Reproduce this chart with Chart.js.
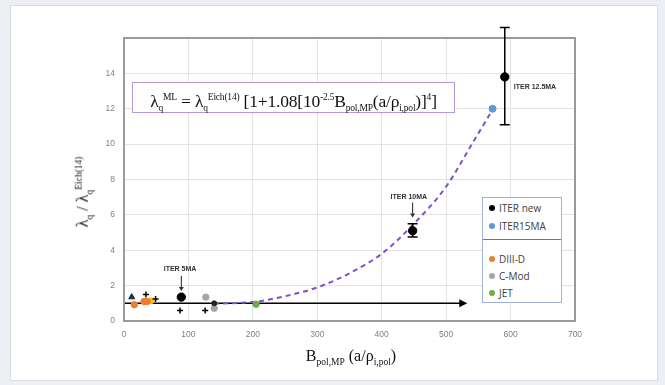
<!DOCTYPE html>
<html>
<head>
<meta charset="utf-8">
<script src="https://cdn.jsdelivr.net/npm/chart.js@4/dist/chart.umd.min.js"></script>
<style>
  html,body{margin:0;padding:0;width:665px;height:385px;background:#eceff3;overflow:hidden;}
  #card{position:absolute;left:10px;top:5px;width:646px;height:374px;background:#fff;border:1px solid #d9dde2;}
  #wrap{position:absolute;left:0;top:0;width:665px;height:385px;}
  .serif{font-family:"Liberation Serif","DejaVu Serif",serif;color:#111;}
  #eq{position:absolute;left:132px;top:82px;width:321px;height:29px;border:1.5px solid #b39ad6;background:#fff;
      font-size:17.5px;line-height:29px;text-align:center;white-space:nowrap;letter-spacing:-0.2px;}
  #eq sub,#eq sup{font-size:9.5px;}
  #ytitle{position:absolute;left:84px;top:192px;transform:translate(-50%,-50%) rotate(-90deg);font-size:16px;white-space:nowrap;}
  #ytitle sub,#ytitle sup{font-size:9.5px;}
  #xtitle{position:absolute;left:351px;top:357px;transform:translate(-50%,-50%);font-size:16px;white-space:nowrap;}
  #xtitle sub{font-size:9.5px;}
  #legend{position:absolute;left:482px;top:197px;width:78px;height:104px;border:1.5px solid #9db3db;background:#fff;
      font-family:"Open Sans","Liberation Sans",sans-serif;font-size:10px;color:#404040;}
  #legend .it{position:absolute;left:6px;height:12px;line-height:12px;white-space:nowrap;}
  #legend .dot{display:inline-block;width:6px;height:6px;border-radius:50%;margin-right:4px;vertical-align:middle;position:relative;top:-1px;}
  #legend .sep{position:absolute;left:0;right:0;top:41px;border-top:1.5px solid #777;}
</style>
</head>
<body>
<div id="card"></div>
<div id="wrap"><canvas id="c" width="665" height="385"></canvas></div>
<div id="eq" class="serif">λ<sub>q</sub><sup>ML</sup> = λ<sub>q</sub><sup>Eich(14)</sup> [1+1.08[10<sup>-2.5</sup>B<sub>pol,MP</sub>(a/ρ<sub>i,pol</sub>)]<sup>4</sup>]</div>
<div id="ytitle" class="serif">λ<sub>q</sub> / λ<sub>q</sub><sup>Eich(14)</sup></div>
<div id="xtitle" class="serif">B<sub>pol,MP</sub> (a/ρ<sub>i,pol</sub>)</div>
<div id="legend">
  <div class="it" style="top:4px"><span class="dot" style="background:#000"></span>ITER new</div>
  <div class="it" style="top:22px"><span class="dot" style="background:#5b9bd5"></span>ITER15MA</div>
  <div class="sep"></div>
  <div class="it" style="top:55px"><span class="dot" style="background:#ed7d31"></span>DIII-D</div>
  <div class="it" style="top:72px"><span class="dot" style="background:#a5a5a5"></span>C-Mod</div>
  <div class="it" style="top:89px"><span class="dot" style="background:#70ad47"></span>JET</div>
</div>
<script>
// ---- data ----
const xTicks = [0, 100, 200, 300, 400, 500, 600, 700];
const yTicks = [0, 2, 4, 6, 8, 10, 12, 14];

const iterNewX = [89, 448, 591];
const iterNewY = [1.35, 5.1, 13.8];
const iterErrLow  = [null, 4.75, 11.1];
const iterErrHigh = [null, 5.5, 16.6];
const iterLabels = ['ITER 5MA', 'ITER 10MA', 'ITER 12.5MA'];

const iter15X = [572];
const iter15Y = [12.0];

const diiidX = [16, 31, 36];
const diiidY = [0.92, 1.1, 1.1];

const yellowX = [42];
const yellowY = [1.15];

const triX = [12];
const triY = [1.35];

const cmodX = [127, 140];
const cmodY = [1.35, 0.72];

const jetX = [205];
const jetY = [0.95];

const plusX = [34, 49, 87, 126];
const plusY = [1.5, 1.25, 0.6, 0.6];

const curveStartX = [140];
const curveStartY = [1.0];

const fitX = [140, 205, 250, 300, 350, 400, 450, 500, 540, 568];
const fitY = [0.97, 1.1, 1.4, 1.9, 2.7, 3.8, 5.5, 7.6, 10.0, 11.7];

const baseX = [0, 525];
const baseY = [1, 1];

const pts = (xs, ys) => xs.map((v, i) => ({x: v, y: ys[i]}));

const overlay = {
  id: 'overlay',
  beforeDraw(chart) {
    const {ctx, chartArea: a} = chart;
    ctx.save();
    ctx.fillStyle = '#fff';
    ctx.fillRect(a.left, a.top, a.right - a.left, a.bottom - a.top);
    ctx.restore();
  },
  afterDraw(chart) {
    const {ctx, chartArea: a, scales: {x, y}} = chart;
    ctx.save();
    // plot border
    ctx.strokeStyle = '#9a9a9a';
    ctx.lineWidth = 2;
    ctx.strokeRect(a.left, a.top, a.right - a.left, a.bottom - a.top);
    // error bars
    ctx.strokeStyle = '#000';
    ctx.lineWidth = 1.5;
    iterNewX.forEach((vx, i) => {
      if (iterErrLow[i] == null) return;
      const px = x.getPixelForValue(vx);
      const p1 = y.getPixelForValue(iterErrLow[i]);
      const p2 = y.getPixelForValue(iterErrHigh[i]);
      ctx.beginPath();
      ctx.moveTo(px, p1); ctx.lineTo(px, p2);
      ctx.moveTo(px - 5, p1); ctx.lineTo(px + 5, p1);
      ctx.moveTo(px - 5, p2); ctx.lineTo(px + 5, p2);
      ctx.stroke();
    });
    // baseline arrow head
    const ax = x.getPixelForValue(baseX[1]);
    const ay = y.getPixelForValue(baseY[1]);
    ctx.fillStyle = '#000';
    ctx.beginPath();
    ctx.moveTo(ax + 5, ay); ctx.lineTo(ax - 3, ay - 4); ctx.lineTo(ax - 3, ay + 4); ctx.closePath();
    ctx.fill();
    // labels
    ctx.font = 'bold 7px "Liberation Sans", sans-serif';
    ctx.fillStyle = '#333';
    ctx.textBaseline = 'middle';
    ctx.textAlign = 'center';
    const lab5 = {x: 87, y: 2.95, a1: 2.55, a2: 1.7, ax: 89};
    const lab10 = {x: 442, y: 7.0, a1: 6.7, a2: 5.85, ax: 448};
    ctx.fillText(iterLabels[0], x.getPixelForValue(lab5.x), y.getPixelForValue(lab5.y));
    ctx.fillText(iterLabels[1], x.getPixelForValue(lab10.x), y.getPixelForValue(lab10.y));
    ctx.textAlign = 'left';
    ctx.fillText(iterLabels[2], x.getPixelForValue(iterNewX[2]) + 9, y.getPixelForValue(13.2));
    // small down arrows
    ctx.strokeStyle = '#222';
    ctx.lineWidth = 1;
    [lab5, lab10].forEach(l => {
      const px = x.getPixelForValue(l.ax);
      const t = y.getPixelForValue(l.a1), b = y.getPixelForValue(l.a2);
      ctx.beginPath(); ctx.moveTo(px, t); ctx.lineTo(px, b - 3); ctx.stroke();
      ctx.beginPath(); ctx.moveTo(px, b); ctx.lineTo(px - 2.5, b - 4); ctx.lineTo(px + 2.5, b - 4); ctx.closePath(); ctx.fill();
    });
    ctx.restore();
  }
};

new Chart(document.getElementById('c'), {
  type: 'scatter',
  data: {
    datasets: [
      {label: 'base', type: 'line', data: pts(baseX, baseY), borderColor: '#000', borderWidth: 1.5, pointRadius: 0, order: 5},
      {label: 'fit', type: 'line', data: pts(fitX, fitY), borderColor: '#8050c8', borderWidth: 2, borderDash: [5, 4],
       pointRadius: 0, cubicInterpolationMode: 'monotone', order: 4},
      {label: 'DIII-D', data: pts(diiidX, diiidY), backgroundColor: '#ed7d31', borderColor: '#ed7d31', pointRadius: 3.2, order: 3},
      {label: 'yellow', data: pts(yellowX, yellowY), backgroundColor: '#ffc000', borderColor: '#ffc000', pointRadius: 3, order: 3},
      {label: 'tri', data: pts(triX, triY), backgroundColor: '#1f2d4d', borderColor: '#1f2d4d', pointStyle: 'triangle', pointRadius: 3.5, order: 3},
      {label: 'C-Mod', data: pts(cmodX, cmodY), backgroundColor: '#a5a5a5', borderColor: '#a5a5a5', pointRadius: 3.2, order: 3},
      {label: 'JET', data: pts(jetX, jetY), backgroundColor: '#70ad47', borderColor: '#70ad47', pointRadius: 3.2, order: 3},
      {label: 'plus', data: pts(plusX, plusY), backgroundColor: '#000', borderColor: '#000', pointStyle: 'crossRot', rotation: 45,
       pointRadius: 3, borderWidth: 1.5, order: 2},
      {label: 'start', data: pts(curveStartX, curveStartY), backgroundColor: '#222', borderColor: '#222', pointRadius: 2.5, order: 2},
      {label: 'ITER15MA', data: pts(iter15X, iter15Y), backgroundColor: '#5b9bd5', borderColor: '#5b9bd5', pointRadius: 3.5, order: 1},
      {label: 'ITER new', data: pts(iterNewX, iterNewY), backgroundColor: '#000', borderColor: '#000', pointRadius: 4.2, order: 0}
    ]
  },
  options: {
    responsive: false,
    animation: false,
    layout: {padding: {left: 84, right: 90, top: 38, bottom: 34}},
    plugins: {legend: {display: false}, tooltip: {enabled: false}},
    scales: {
      x: {
        type: 'linear', min: 0, max: 700,
        afterFit: s => { s.height = 30; },
        afterBuildTicks: s => { s.ticks = xTicks.map(v => ({value: v})); },
        grid: {color: '#e3e3e3', drawTicks: false},
        border: {display: false},
        ticks: {color: '#808080', padding: 9, font: {size: 8.5, family: '"Liberation Sans", sans-serif'}}
      },
      y: {
        type: 'linear', min: 0, max: 16,
        afterFit: s => { s.width = 40; },
        afterBuildTicks: s => { s.ticks = yTicks.concat([16]).map(v => ({value: v})); },
        grid: {color: '#e3e3e3', drawTicks: false},
        border: {display: false},
        ticks: {color: '#808080', padding: 9, font: {size: 8.5, family: '"Liberation Sans", sans-serif'},
                callback: v => (yTicks.includes(v) ? String(v) : '')}
      }
    }
  },
  plugins: [overlay]
});
</script>
</body>
</html>
